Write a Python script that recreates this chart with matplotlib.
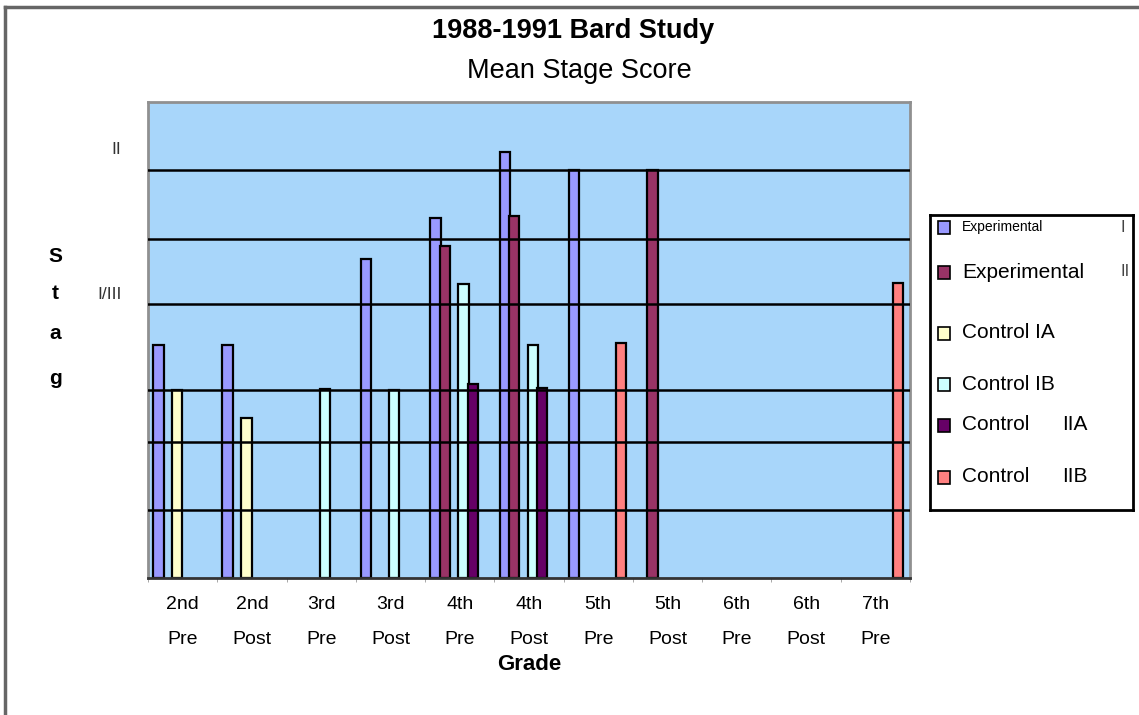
import numpy as np
import matplotlib.pyplot as plt
from matplotlib.patches import Rectangle
from matplotlib.lines import Line2D

plt.rcParams['font.family'] = ['Liberation Sans', 'DejaVu Sans']

# grade / test occasion on the x axis
grades = ['2nd', '2nd', '3rd', '3rd', '4th', '4th', '5th', '5th', '6th', '6th', '7th']
tests = ['Pre', 'Post', 'Pre', 'Post', 'Pre', 'Post', 'Pre', 'Post', 'Pre', 'Post', 'Pre']

series = ['Experimental I', 'Experimental II', 'Control IA', 'Control IB',
          'Control IIA', 'Control IIB']

# mean stage score per group (0 = no bar)
exp_1 = [3.43, 3.43, 0, 4.69, 5.30, 6.26, 6.0, 0, 0, 0, 0]
exp_2 = [0, 0, 0, 0, 4.88, 5.32, 0, 6.0, 0, 0, 0]
ctrl_1a = [2.76, 2.36, 0, 0, 0, 0, 0, 0, 0, 0, 0]
ctrl_1b = [0, 0, 2.78, 2.76, 4.32, 3.43, 0, 0, 0, 0, 0]
ctrl_2a = [0, 0, 0, 0, 2.85, 2.80, 0, 0, 0, 0, 0]
ctrl_2b = [0, 0, 0, 0, 0, 0, 3.45, 0, 0, 0, 4.34]

# horizontal rules drawn across the plot
grid_levels = [1.0, 2.0, 2.76, 4.03, 4.99, 6.0]
stage_ticks = [4.19, 6.32]
stage_labels = ['I/III', 'II']

colors = ['#9999FF', '#993366', '#FFFFCC', '#CCFFFF', '#660066', '#FF8080']
values = [exp_1, exp_2, ctrl_1a, ctrl_1b, ctrl_2a, ctrl_2b]

fig = plt.figure(figsize=(11.39, 7.15), dpi=100)
ax = fig.add_axes([148 / 1139, 1 - 578 / 715, 762 / 1139, 476 / 715])
ax.set_facecolor('#A8D6FA')

n = len(grades)
idx = np.arange(n)
width = 0.15
for k, (vals, col) in enumerate(zip(values, colors)):
    vals = np.array(vals, dtype=float)
    keep = vals > 0
    ax.bar(idx[keep] + 0.15 + 0.135 * k, vals[keep], width=width, color=col,
           edgecolor='black', linewidth=1.6, zorder=2, label=series[k])

for lev in grid_levels:
    ax.axhline(lev, color='black', linewidth=1.8, zorder=3)

ax.set_xlim(0, n)
ax.set_ylim(0, 7)

# x labels at group centres, little tick marks at group edges
ax.set_xticks(idx + 0.5)
ax.set_xticklabels([g + '\n' + t for g, t in zip(grades, tests)], fontsize=14)
for lab in ax.get_xticklabels():
    lab.set_linespacing(2.4)
ax.tick_params(axis='x', which='major', length=0, pad=13)
ax.set_xticks(np.arange(n + 1), minor=True)
ax.tick_params(axis='x', which='minor', length=3, color='#999999', direction='out')

ax.set_yticks(stage_ticks)
ax.set_yticklabels(stage_labels, fontsize=12.5, color='#333333')
ax.tick_params(axis='y', length=0, pad=19)

for side in ['top', 'left', 'right']:
    ax.spines[side].set_color('#909090')
    ax.spines[side].set_linewidth(2)
ax.spines['bottom'].set_color('#333333')
ax.spines['bottom'].set_linewidth(2)

ax.set_xlabel('Grade', fontsize=16, fontweight='bold', labelpad=4)

fig.text(573 / 1139, 1 - 31 / 715, '1988-1991 Bard Study', ha='center', va='center',
         fontsize=19.5, fontweight='bold')
fig.text(579 / 1139, 1 - 71 / 715, 'Mean Stage Score', ha='center', va='center',
         fontsize=19.5)

# stacked y label letters
for letter, ypx in zip('Stag', [257, 294, 333, 378]):
    fig.text(55 / 1139, 1 - ypx / 715, letter, ha='center', va='center',
             fontsize=15, fontweight='bold')

# figure frame (top and left)
fig.add_artist(Line2D([5 / 1139, 1], [1 - 7 / 715, 1 - 7 / 715], color='#666666',
                      linewidth=2.5, transform=fig.transFigure))
fig.add_artist(Line2D([5 / 1139, 5 / 1139], [0, 1 - 7 / 715], color='#666666',
                      linewidth=2.5, transform=fig.transFigure))

# legend box drawn by hand
lax = fig.add_axes([930 / 1139, 1 - 510 / 715, 203 / 1139, 295 / 715])
lax.set_xlim(0, 203)
lax.set_ylim(295, 0)
lax.set_xticks([])
lax.set_yticks([])
for s in lax.spines.values():
    s.set_linewidth(2)
    s.set_color('black')

rows = [12, 57, 118, 169, 210, 262]
sizes = [10, 15, 15, 15, 15, 15]
split_x = [191, 191, None, None, 132, 132]
for name, col, y, fs, sx in zip(series, colors, rows, sizes, split_x):
    lax.add_patch(Rectangle((8, y - 6), 12, 13, facecolor=col, edgecolor='black',
                            linewidth=1.2))
    if sx is None:
        lax.text(32, y, name, fontsize=fs, va='center', ha='left')
    else:
        left, right = name.rsplit(' ', 1)
        lax.text(32, y, left, fontsize=fs, va='center', ha='left')
        lax.text(sx, y, right, fontsize=fs if sx != 191 else 12, va='center', ha='left',
                 color='black' if sx != 191 else '#444444')

fig.savefig('out.png', dpi=100)
